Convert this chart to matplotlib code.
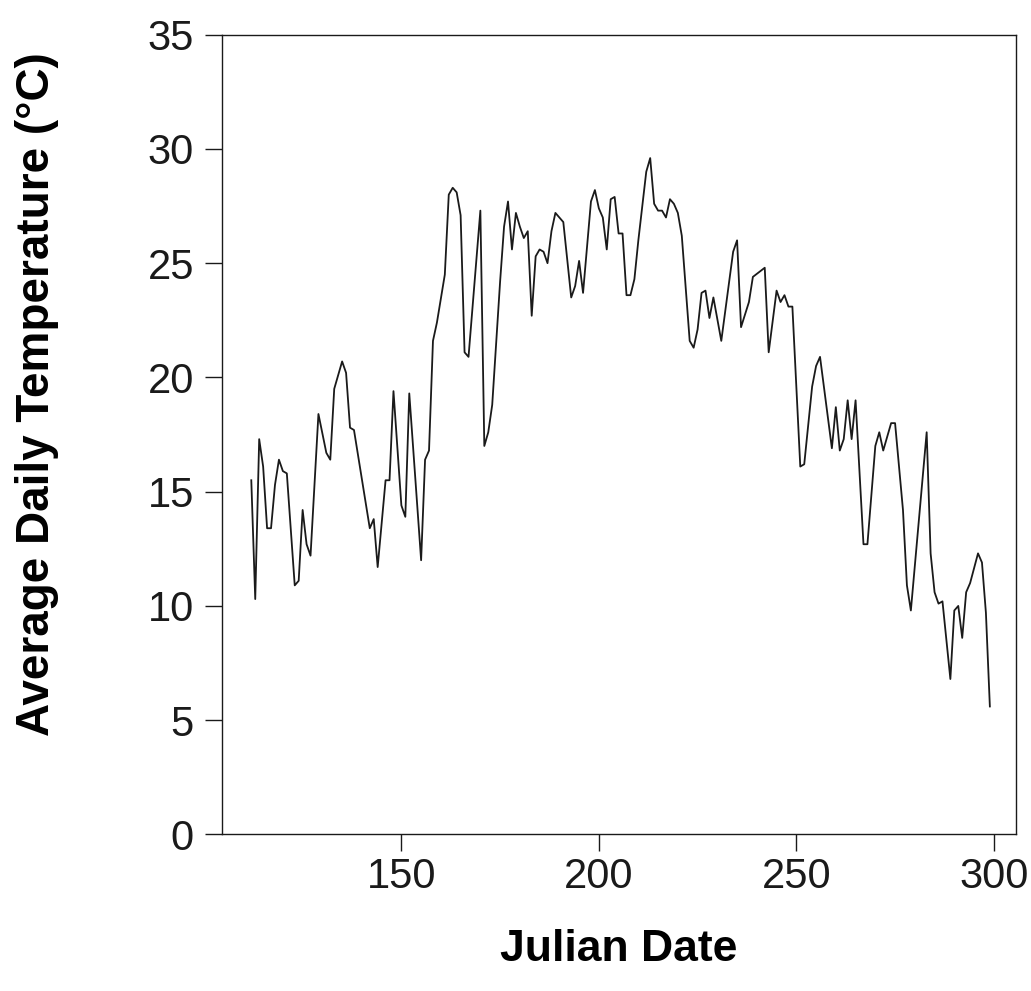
#!/usr/bin/env python

import matplotlib
matplotlib.use("Agg")
import matplotlib.pyplot as plt

# julian day and mean daily temperature (deg C)
days = [112, 113, 114, 115, 116, 117, 118, 119, 120, 121,
        123, 124, 125, 126, 127, 129, 131, 132, 133, 134,
        135, 136, 137, 138, 142, 143, 144, 146, 147, 148,
        150, 151, 152, 155, 156, 157, 158, 159, 161, 162,
        163, 164, 165, 166, 167, 170, 171, 172, 173, 175,
        176, 177, 178, 179, 180, 181, 182, 183, 184, 185,
        186, 187, 188, 189, 191, 193, 194, 195, 196, 198,
        199, 200, 201, 202, 203, 204, 205, 206, 207, 208,
        209, 210, 212, 213, 214, 215, 216, 217, 218, 219,
        220, 221, 223, 224, 225, 226, 227, 228, 229, 231,
        234, 235, 236, 238, 239, 242, 243, 245, 246, 247,
        248, 249, 251, 252, 254, 255, 256, 259, 260, 261,
        262, 263, 264, 265, 267, 268, 270, 271, 272, 274,
        275, 277, 278, 279, 283, 284, 285, 286, 287, 289,
        290, 291, 292, 293, 294, 296, 297, 298, 299]

temps = [15.5, 10.3, 17.3, 16.1, 13.4, 13.4, 15.3, 16.4, 15.9, 15.8,
         10.9, 11.1, 14.2, 12.7, 12.2, 18.4, 16.7, 16.4, 19.5, 20.1,
         20.7, 20.2, 17.8, 17.7, 13.4, 13.8, 11.7, 15.5, 15.5, 19.4,
         14.4, 13.9, 19.3, 12.0, 16.4, 16.8, 21.6, 22.4, 24.5, 28.0,
         28.3, 28.1, 27.1, 21.1, 20.9, 27.3, 17.0, 17.6, 18.8, 24.2,
         26.6, 27.7, 25.6, 27.2, 26.6, 26.1, 26.4, 22.7, 25.3, 25.6,
         25.5, 25.0, 26.4, 27.2, 26.8, 23.5, 24.0, 25.1, 23.7, 27.7,
         28.2, 27.4, 27.0, 25.6, 27.8, 27.9, 26.3, 26.3, 23.6, 23.6,
         24.3, 26.0, 29.0, 29.6, 27.6, 27.3, 27.3, 27.0, 27.8, 27.6,
         27.2, 26.2, 21.6, 21.3, 22.1, 23.7, 23.8, 22.6, 23.5, 21.6,
         25.5, 26.0, 22.2, 23.3, 24.4, 24.8, 21.1, 23.8, 23.3, 23.6,
         23.1, 23.1, 16.1, 16.2, 19.6, 20.5, 20.9, 16.9, 18.7, 16.8,
         17.3, 19.0, 17.3, 19.0, 12.7, 12.7, 17.0, 17.6, 16.8, 18.0,
         18.0, 14.2, 10.9, 9.8, 17.6, 12.3, 10.6, 10.1, 10.2, 6.8,
         9.8, 10.0, 8.6, 10.6, 11.0, 12.3, 11.9, 9.7, 5.6]

xticks = [150, 200, 250, 300]
yticks = [0, 5, 10, 15, 20, 25, 30, 35]

plt.rcParams['font.family'] = ['Liberation Sans', 'DejaVu Sans']

fig = plt.figure(figsize=(10.31, 9.91), dpi=100)
ax = fig.add_axes([0.215, 0.158, 0.77, 0.807])

ax.plot(days, temps, color='#1a1a1a', linewidth=1.3)

ax.set_xlim(104.5, 305.5)
ax.set_ylim(0, 35)
ax.set_xticks(xticks)
ax.set_yticks(yticks)
ax.tick_params(axis='both', direction='out', length=12, width=1.0,
               labelsize=30, colors='#1a1a1a')
ax.tick_params(axis='x', pad=4)
ax.tick_params(axis='y', pad=8)

for s in ax.spines.values():
    s.set_linewidth(1.0)
    s.set_color('#1a1a1a')

ax.set_xlabel('Julian Date', fontsize=32, fontweight='bold')
ax.set_ylabel('Average Daily Temperature (\u00b0C)', fontsize=33, fontweight='bold')
ax.xaxis.set_label_coords(0.5, -0.118)
ax.yaxis.set_label_coords(-0.205, 0.55)

plt.savefig('out.png', dpi=100)
plt.close(fig)
